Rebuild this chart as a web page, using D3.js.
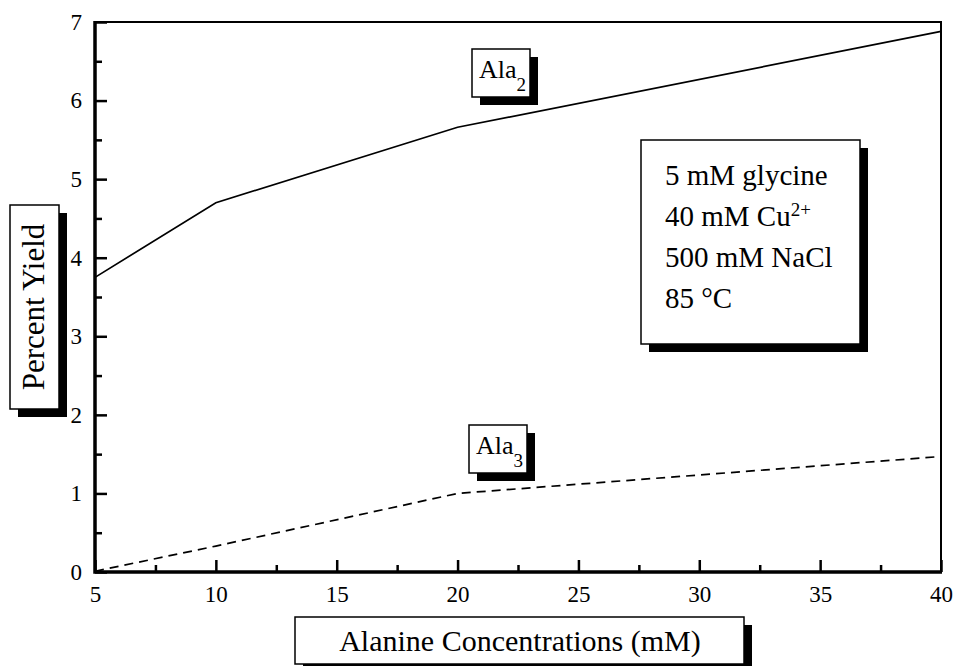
<!DOCTYPE html>
<html>
<head>
<meta charset="utf-8">
<script src="https://cdn.jsdelivr.net/npm/d3@7"></script>
<style>
    body { margin: 0; background: #fff; }
    svg { display: block; font-family: "Liberation Serif", "Times New Roman", serif; }
</style>
</head>
<body>
<div id="chart"></div>
<script>
// values
var concentrations = [5, 10, 20, 40];
var ala2Yield = [3.75, 4.70, 5.66, 6.88];
var ala3Yield = [0.01, 0.33, 1.00, 1.47];
var xMajorTicks = [5, 10, 15, 20, 25, 30, 35, 40];
var xMinorTicks = [7.5, 12.5, 17.5, 22.5, 27.5, 32.5, 37.5];
var yMajorTicks = [0, 1, 2, 3, 4, 5, 6, 7];
var yMinorTicks = [0.5, 1.5, 2.5, 3.5, 4.5, 5.5, 6.5];
var conditions = ["5 mM glycine", "40 mM Cu", "500 mM NaCl", "85 \u00B0C"];

var width = 954,
    height = 666;

var margin = { top: 22, right: 13, bottom: 94, left: 95 };

var svg = d3.select("#chart").append("svg")
    .attr("width", width)
    .attr("height", height);

var x = d3.scaleLinear()
    .domain([5, 40])
    .range([margin.left, width - margin.right]);

var y = d3.scaleLinear()
    .domain([0, 7])
    .range([height - margin.bottom, margin.top]);

// frame: top + right thin, left + bottom heavy
svg.append("path")
    .attr("d", "M" + x(5) + "," + y(7) + "H" + x(40) + "V" + y(0))
    .attr("fill", "none")
    .attr("stroke", "#000")
    .attr("stroke-width", 2);
svg.append("path")
    .attr("d", "M" + x(5) + "," + (y(7) - 1) + "V" + y(0) + "H" + (x(40) + 1))
    .attr("fill", "none")
    .attr("stroke", "#000")
    .attr("stroke-width", 3.5);

// minor ticks
svg.append("g")
    .attr("transform", "translate(" + x(5) + ",0)")
    .call(d3.axisLeft(y).tickValues(yMinorTicks).tickSize(-7).tickSizeOuter(0).tickFormat(""))
    .call(g => g.select(".domain").remove());
svg.append("g")
    .attr("transform", "translate(0," + y(0) + ")")
    .call(d3.axisBottom(x).tickValues(xMinorTicks).tickSize(-7).tickSizeOuter(0).tickFormat(""))
    .call(g => g.select(".domain").remove());

// major ticks + labels
var yAxis = svg.append("g")
    .attr("transform", "translate(" + x(5) + ",0)")
    .call(d3.axisLeft(y).tickValues(yMajorTicks).tickSize(-12).tickSizeOuter(0).tickPadding(13).tickFormat(d3.format("d")));
var xAxis = svg.append("g")
    .attr("transform", "translate(0," + y(0) + ")")
    .call(d3.axisBottom(x).tickValues(xMajorTicks).tickSize(-12).tickSizeOuter(0).tickPadding(14).tickFormat(d3.format("d")));

[xAxis, yAxis].forEach(function(g) {
    g.attr("font-family", null).attr("font-size", null);
    g.select(".domain").remove();
    g.selectAll(".tick text")
        .style("font-family", "'Liberation Serif'")
        .style("font-size", "23px")
        .attr("fill", "#000");
});
svg.selectAll(".tick line").attr("stroke", "#000").style("stroke-width", "2.5px");

// series
var line = d3.line()
    .x(function(d) { return x(d[0]); })
    .y(function(d) { return y(d[1]); });

svg.append("path")
    .datum(d3.zip(concentrations, ala2Yield))
    .attr("d", line)
    .attr("fill", "none")
    .attr("stroke", "#000")
    .attr("stroke-width", 1.7);

svg.append("path")
    .datum(d3.zip(concentrations, ala3Yield))
    .attr("d", line)
    .attr("fill", "none")
    .attr("stroke", "#000")
    .attr("stroke-width", 1.7)
    .attr("stroke-dasharray", "9,6");

// box with drop shadow
function shadowBox(x0, y0, w, h) {
    var g = svg.append("g");
    g.append("rect")
        .attr("x", x0 + 8).attr("y", y0 + 8)
        .attr("width", w).attr("height", h)
        .attr("fill", "#000");
    g.append("rect")
        .attr("x", x0).attr("y", y0)
        .attr("width", w).attr("height", h)
        .attr("fill", "#fff")
        .attr("stroke", "#000")
        .attr("stroke-width", 1.5);
    return g;
}

// y axis title
var yt = shadowBox(10, 205, 49, 204);
yt.append("text")
    .attr("transform", "translate(44,307) rotate(-90)")
    .attr("text-anchor", "middle")
    .style("font-size", "31px")
    .text("Percent Yield");

// x axis title
var xt = shadowBox(295, 617, 449, 47);
xt.append("text")
    .attr("x", 520)
    .attr("y", 651)
    .attr("text-anchor", "middle")
    .style("font-size", "30px")
    .text("Alanine Concentrations (mM)");

// series labels
function seriesLabel(x0, y0, sub) {
    var g = shadowBox(x0, y0, 58, 48);
    var t = g.append("text")
        .attr("x", x0 + 7)
        .attr("y", y0 + 29)
        .style("font-size", "26px");
    t.append("tspan").text("Ala");
    t.append("tspan")
        .style("font-size", "19px")
        .attr("dy", 13)
        .text(sub);
}
seriesLabel(472, 49, "2");
seriesLabel(469, 425, "3");

// conditions box
var cb = shadowBox(641, 140, 219, 204);
cb.selectAll("text.cond")
    .data(conditions).enter()
    .append("text")
    .attr("class", "cond")
    .attr("x", 665)
    .attr("y", function(d, i) { return 185 + i * 41; })
    .style("font-size", "29px")
    .each(function(d, i) {
        var t = d3.select(this);
        t.append("tspan").text(d);
        if (i === 1) {
            t.append("tspan")
                .style("font-size", "19px")
                .attr("dy", -10)
                .text("2+");
        }
    });
</script>
</body>
</html>
